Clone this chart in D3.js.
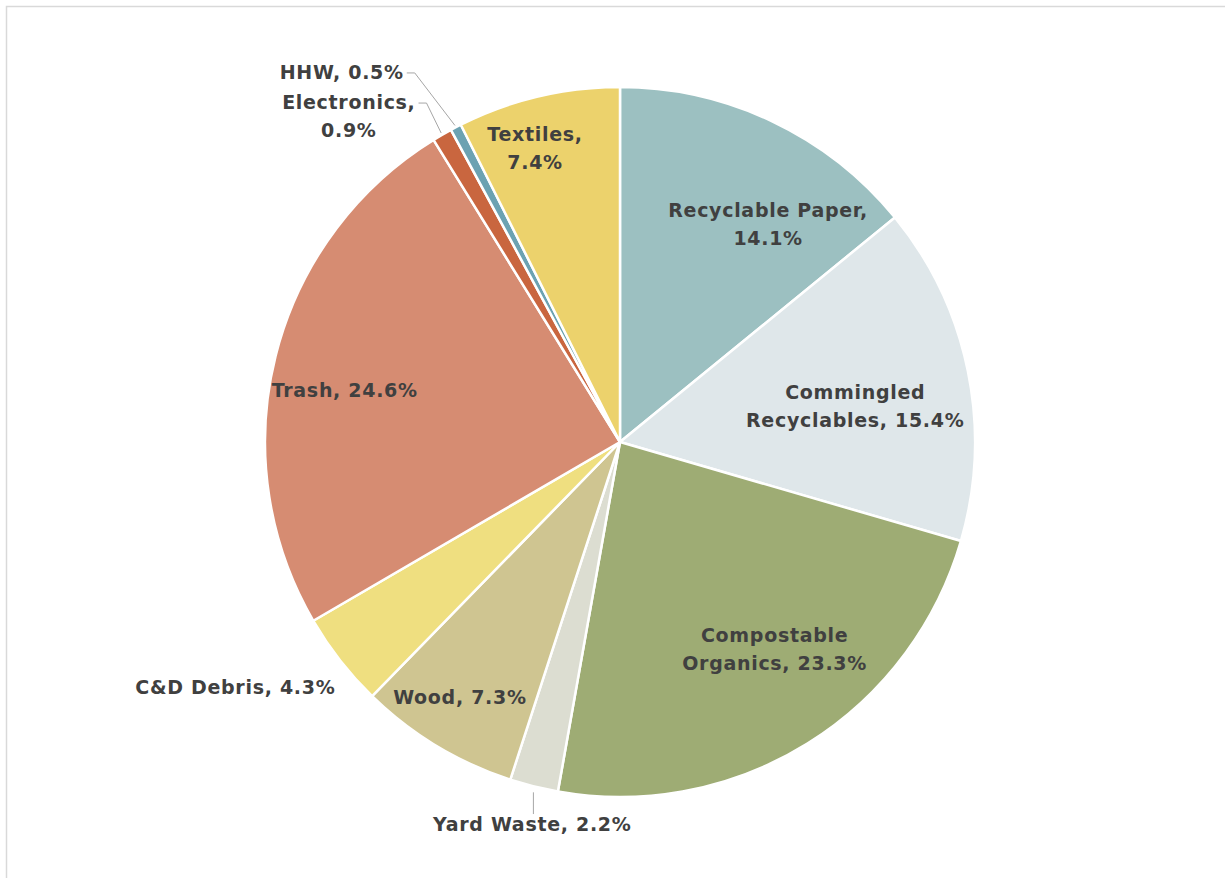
<!DOCTYPE html>
<html>
<head>
<meta charset="utf-8">
<script src="https://cdn.jsdelivr.net/npm/d3@7"></script>
<style>
  body { margin: 0; background: #ffffff; }
  svg { display: block; }
  .lbl { font-family: "DejaVu Sans", sans-serif; font-weight: bold; font-size: 19px; letter-spacing: 0.7px; fill: #404040; }
  .leader { stroke: #a6a6a6; stroke-width: 1; fill: none; }
</style>
</head>
<body>
<svg id="chart" width="1225" height="878"></svg>
<script>
var categories = ['Recyclable Paper', 'Commingled Recyclables', 'Compostable Organics', 'Yard Waste', 'Wood',
                  'C&D Debris', 'Trash', 'Electronics', 'HHW', 'Textiles'];
var shares = [14.1, 15.4, 23.3, 2.2, 7.3, 4.3, 24.6, 0.9, 0.5, 7.4];
var colors = ['#9cc0c1', '#dfe7ea', '#9eac74', '#dcddd1', '#cfc591', '#efdf80', '#d68c72', '#c9663f', '#6ca2b2', '#ecd26c'];
// label lines: name part, value part
var labelLines = [
    ['Recyclable Paper,', '14.1%'],
    ['Commingled', 'Recyclables, 15.4%'],
    ['Compostable', 'Organics, 23.3%'],
    ['Yard Waste, 2.2%'],
    ['Wood, 7.3%'],
    ['C&D Debris, 4.3%'],
    ['Trash, 24.6%'],
    ['Electronics,', '0.9%'],
    ['HHW, 0.5%'],
    ['Textiles,', '7.4%']
];

// label placement (polar: radius, angle shift from slice middle in degrees)
var labelStyle = {
    'Recyclable Paper': {r: 263, dA: 8.9},
    'Commingled Recyclables': {r: 238, dA: 2.8},
    'Compostable Organics': {r: 259, dA: -4.8},
    'Yard Waste': {r: 392, dA: -1.1, leader: 'down'},
    'Wood': {r: 301, dA: 1},
    'C&D Debris': {r: 456, dA: 5.5},
    'Trash': {r: 280, dA: -3.5},
    'Electronics': {r: 424, dA: -9.7, leader: 'side'},
    'HHW': {r: 463, dA: -9.4, leader: 'side'},
    'Textiles': {r: 306, dA: -2.8}
};

var svg = d3.select('#chart');
var cx = 620, cy = 442, radius = 355;
var lineH = 28;

// frame
svg.append('rect')
    .attr('x', 6.5).attr('y', 6.5)
    .attr('width', 1240).attr('height', 900)
    .attr('fill', 'none')
    .attr('stroke', '#d9d9d9')
    .attr('stroke-width', 1.5);

var data = categories.map(function(c, i) {
    return {name: c, value: shares[i], color: colors[i], lines: labelLines[i]};
});

var pie = d3.pie().sort(null).value(function(d) { return d.value; });
var arc = d3.arc().innerRadius(0).outerRadius(radius);
var arcs = pie(data);

var g = svg.append('g').attr('transform', 'translate(' + cx + ',' + cy + ')');

g.selectAll('path.slice')
    .data(arcs)
    .enter().append('path')
    .attr('class', 'slice')
    .attr('d', arc)
    .attr('fill', function(a) { return a.data.color; })
    .attr('stroke', '#ffffff')
    .attr('stroke-width', 2.5)
    .attr('stroke-linejoin', 'round');

function polar(r, ang) {
    return [r * Math.sin(ang), -r * Math.cos(ang)];
}

arcs.forEach(function(a) {
    var st = labelStyle[a.data.name];
    var mid = (a.startAngle + a.endAngle) / 2;
    var p = polar(st.r, mid + st.dA * Math.PI / 180);
    var n = a.data.lines.length;
    var y0 = p[1] - (n - 1) * lineH / 2;

    var t = g.append('text').attr('class', 'lbl').attr('text-anchor', 'middle');
    a.data.lines.forEach(function(line, i) {
        t.append('tspan')
            .attr('x', p[0])
            .attr('y', y0 + i * lineH)
            .attr('dy', '0.35em')
            .text(line);
    });

    var edge = polar(radius + 2, mid);
    if (st.leader == 'down') {
        g.append('line').attr('class', 'leader')
            .attr('x1', edge[0]).attr('y1', edge[1] + 4)
            .attr('x2', edge[0]).attr('y2', y0 - 10);
    }
    else if (st.leader == 'side') {
        var w = t.select('tspan').node().getComputedTextLength();
        var xs = p[0] + w / 2 + 3;
        g.append('polyline').attr('class', 'leader')
            .attr('points', [[xs, y0 + 1], [xs + 8, y0 + 1], [edge[0], edge[1]]].join(' '));
    }
});
</script>
</body>
</html>
